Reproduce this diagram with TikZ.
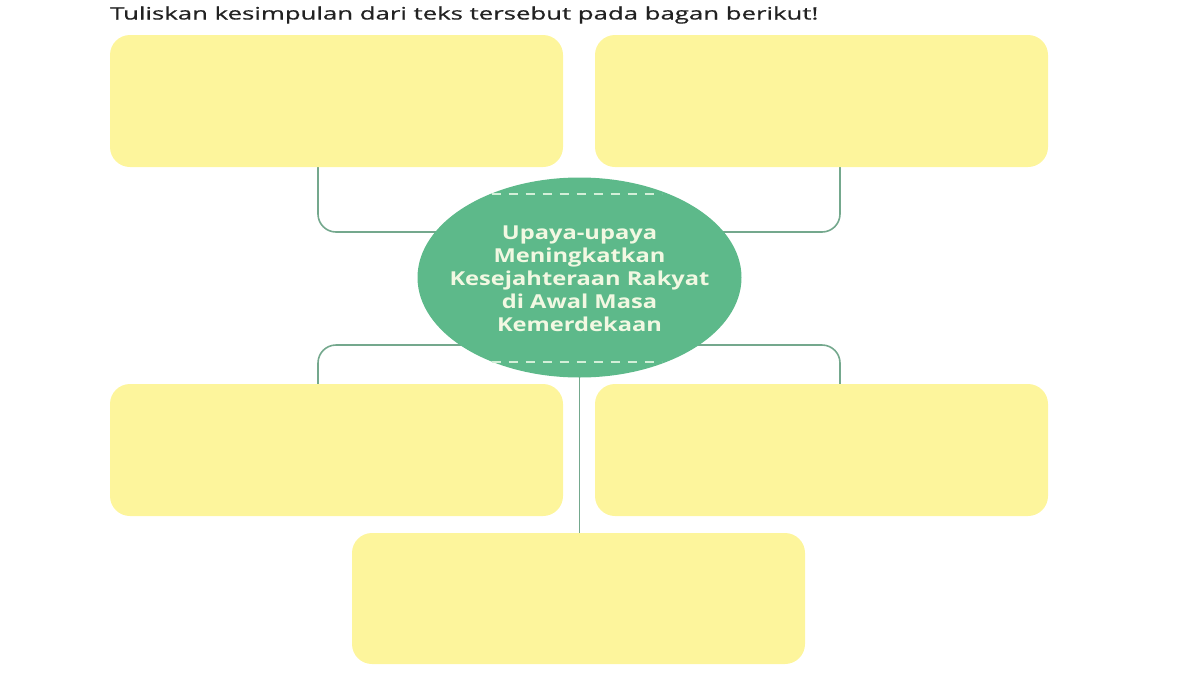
\documentclass[tikz,border=0pt]{standalone}
\usepackage{fontspec}
\setmainfont{Open Sans}
\newfontfamily\titlefont[FakeBold=0.6]{Open Sans}
\usetikzlibrary{shapes.geometric,backgrounds}
\definecolor{boxyellow}{HTML}{FDF59C}
\definecolor{ellgreen}{HTML}{5DB98A}
\definecolor{linegreen}{HTML}{74A88D}
\definecolor{dashgreen}{HTML}{D3EFD8}
\definecolor{elltext}{HTML}{F2F8E2}
\definecolor{titletext}{HTML}{222222}
\tikzset{
  answerbox/.style={rectangle, rounded corners=20pt, fill=boxyellow, draw=none,
    minimum width=453pt, minimum height=132pt, inner sep=0pt},
  topicell/.style={ellipse, fill=ellgreen, draw=none, minimum width=324pt,
    minimum height=200pt, inner sep=0pt},
  conn/.style={draw=linegreen, line width=1.6pt, rounded corners=18pt},
  dashline/.style={draw=dashgreen, line width=2pt, dash pattern=on 9pt off 8pt},
}
\begin{document}
\begin{tikzpicture}[x=1pt,y=-1pt]
\useasboundingbox (0,0) rectangle (1200,675);
\node[anchor=base west, inner sep=0pt, text=titletext] (title) at (110,19.5)
  {\resizebox{708pt}{13pt}{\titlefont Tuliskan kesimpulan dari teks tersebut pada bagan berikut!}};
\node[answerbox] (tl) at (336.5,101) {};
\node[answerbox] (tr) at (821.5,101) {};
\node[answerbox] (bl) at (336.5,450) {};
\node[answerbox] (br) at (821.5,450) {};
\node[answerbox, minimum height=131pt] (bc) at (578.5,598.5) {};
\node[topicell] (c) at (579.5,277.5) {};
\node[inner sep=0pt, text=elltext, font=\bfseries] (ctext) at (579.5,281)
  {\resizebox*{260pt}{115pt}{\begin{tabular}{@{}c@{}}Upaya-upaya\\ Meningkatkan\\ Kesejahteraan Rakyat\\ di Awal Masa\\ Kemerdekaan\end{tabular}}};
\draw[dashline] ([xshift=-88pt,yshift=83.5pt]c.center) -- ([xshift=82pt,yshift=83.5pt]c.center);
\draw[dashline] ([xshift=-88pt,yshift=-84.5pt]c.center) -- ([xshift=82pt,yshift=-84.5pt]c.center);
\begin{scope}[on background layer]
\draw[conn] ([xshift=-18.5pt]tl.south) |- ([yshift=45.5pt]c.center);
\draw[conn] ([xshift=18.5pt]tr.south) |- ([yshift=45.5pt]c.center);
\draw[conn] ([yshift=-67.5pt]c.center) -| ([xshift=-18.5pt]bl.north);
\draw[conn] ([yshift=-67.5pt]c.center) -| ([xshift=18.5pt]br.north);
\draw[conn] (c.center) -- (c.center |- bc.north);
\end{scope}
\end{tikzpicture}
\end{document}
